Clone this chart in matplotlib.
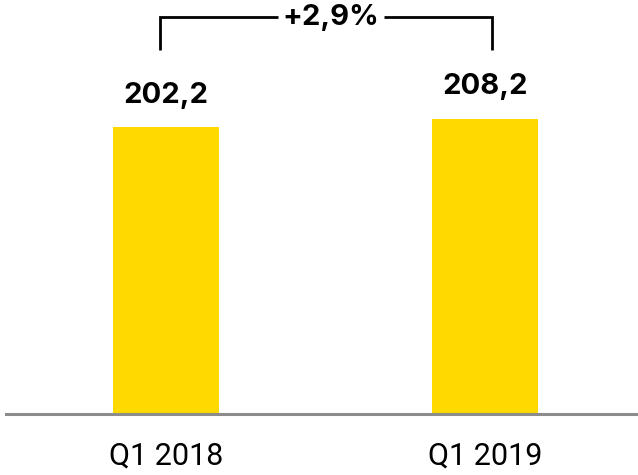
import matplotlib
matplotlib.use("Agg")
import matplotlib.pyplot as plt

# quarterly figures
quarters = ["Q1 2018", "Q1 2019"]
values = [202.2, 208.2]
value_labels = ["202,2", "208,2"]
growth_label = "+2,9%"

bar_color = "#FFD900"
axis_color = "#8C8C8C"

fig = plt.figure(figsize=(6.38, 4.75), dpi=100)
ax = fig.add_axes([6 / 638, 61 / 475, 632 / 638, 414 / 475])

x = list(range(len(values)))
ax.bar(x, values, width=0.335, color=bar_color, zorder=2)

ax.set_xlim(-0.5016, 1.4796)
ax.set_ylim(0, 291.7)

# value labels above each bar
for xi, v, lab in zip(x, values, value_labels):
    ax.text(xi, v + 13, lab, ha="center", va="bottom", fontsize=21,
            fontweight="bold", family="Inter", color="black")

# bracket linking the two bars with the growth figure
top = max(values)
y_low = top + 48
y_high = top + 71.5
xl = x[0] - 0.019
xr = x[1] + 0.022
xm = (xl + xr) / 2 + 0.015
gap = 0.166
ax.plot([xl, xl, xm - gap], [y_low, y_high, y_high], color="black", lw=2,
        clip_on=False, solid_capstyle="butt", solid_joinstyle="miter")
ax.plot([xm + gap, xr, xr], [y_high, y_high, y_low], color="black", lw=2,
        clip_on=False, solid_capstyle="butt", solid_joinstyle="miter")
ax.text(xm, y_high, growth_label, ha="center", va="center", fontsize=21,
        fontweight="bold", family="Inter", color="black")

for s in ["top", "right", "left"]:
    ax.spines[s].set_visible(False)
ax.spines["bottom"].set_color(axis_color)
ax.spines["bottom"].set_linewidth(2.2)
ax.set_yticks([])
ax.set_xticks(x)
ax.set_xticklabels(quarters, fontsize=22, family="Roboto")
ax.tick_params(axis="x", length=0, pad=20)

fig.savefig("out.png", dpi=100)
